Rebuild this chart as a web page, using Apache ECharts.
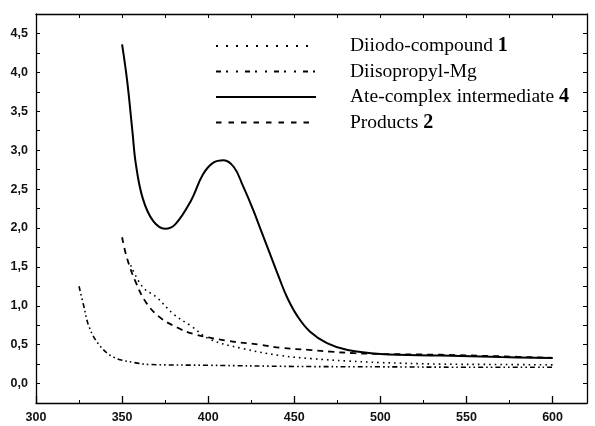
<!DOCTYPE html>
<html>
<head>
<meta charset="utf-8">
<script src="https://cdn.jsdelivr.net/npm/echarts@6/dist/echarts.min.js"></script>
<style>
  html, body { margin: 0; padding: 0; background: #fff; }
  #box { width: 595px; height: 426px; }
</style>
</head>
<body>
<div id="box"></div>
<script>
// 数据
var diiodoX = [355, 362, 370, 380, 390, 401, 420, 442, 460, 481, 500, 535, 570, 600];
var diiodoY = [1.52, 1.24, 1.11, 0.89, 0.74, 0.57, 0.45, 0.36, 0.32, 0.29, 0.27, 0.25, 0.245, 0.24];

var mgX = [325, 327.5, 331, 337, 345, 357, 366, 400, 450, 500, 550, 600];
var mgY = [1.25, 1.02, 0.72, 0.49, 0.34, 0.27, 0.245, 0.235, 0.22, 0.215, 0.21, 0.21];

var ateX = [350, 353, 356, 358, 362, 368, 375, 381, 390, 397, 403, 409, 415, 420, 426, 431, 436, 441, 446, 452, 459, 469, 481, 500, 535, 570, 600];
var ateY = [4.36, 3.88, 3.24, 2.82, 2.38, 2.09, 1.99, 2.05, 2.35, 2.69, 2.84, 2.87, 2.78, 2.55, 2.24, 1.95, 1.66, 1.37, 1.10, 0.86, 0.67, 0.52, 0.43, 0.38, 0.36, 0.34, 0.33];

var prodX = [350, 353, 358, 364, 372, 382, 391, 411, 430, 442, 460, 471, 485, 500, 535, 570, 600];
var prodY = [1.88, 1.60, 1.30, 1.04, 0.85, 0.72, 0.64, 0.55, 0.50, 0.46, 0.43, 0.41, 0.39, 0.38, 0.37, 0.35, 0.33];

var xMajorTicks = [300, 350, 400, 450, 500, 550, 600];
var xMinorTicks = [325, 375, 425, 475, 525, 575];
var xTopTicks = [325, 350, 375, 400, 425, 450, 475, 500, 525, 550, 575, 600];

var names = ['Diiodo-compound 1', 'Diisopropyl-Mg', 'Ate-complex intermediate 4', 'Products 2'];

function pairs(xs, ys) {
  return xs.map(function (x, i) { return [x, ys[i]]; });
}

var myChart = echarts.init(document.getElementById('box'));

var labelFont = { color: '#111', fontWeight: 'bold', fontSize: 12.5, fontFamily: 'Liberation Sans' };
var frameLine = { show: true, onZero: false, lineStyle: { color: '#000', width: 1.3 } };

function yLabel(v) {
  var k = Math.round(v * 4);
  if (k < 0 || k % 2 !== 0) return '';
  return v.toFixed(1).replace('.', ',');
}

var option = {
  animation: false,
  backgroundColor: '#fff',
  grid: { left: 36, right: 8, top: 14, bottom: 23 },
  legend: {
    orient: 'vertical',
    left: 210,
    top: 31,
    itemWidth: 100,
    itemHeight: 14,
    itemGap: 5.5,
    data: [
      { name: names[0], lineStyle: { type: [2, 8], width: 2 } },
      { name: names[1], lineStyle: { type: [5, 5, 2, 8, 2, 7], width: 2 } },
      { name: names[2] },
      { name: names[3], lineStyle: { type: [5.5, 7], width: 2 } }
    ],
    itemStyle: { opacity: 0 },
    formatter: function (name) {
      var m = name.match(/^(.*) (\d)$/);
      if (m) return m[1] + ' {b|' + m[2] + '}';
      return name;
    },
    textStyle: {
      color: '#000',
      fontFamily: 'Liberation Serif',
      fontSize: 19.5,
      lineHeight: 20,
      padding: [0, 0, 0, 29],
      rich: {
        b: { fontFamily: 'Liberation Serif', fontSize: 20, lineHeight: 20, fontWeight: 'bold', color: '#000' }
      }
    }
  },
  xAxis: [
    {
      type: 'value', min: 300, max: 620, position: 'bottom',
      axisLine: frameLine,
      axisTick: { show: true, inside: true, length: 7, customValues: xMajorTicks, lineStyle: { color: '#000', width: 1.3 } },
      axisLabel: Object.assign({ customValues: xMajorTicks, margin: 8 }, labelFont),
      splitLine: { show: false }
    },
    {
      type: 'value', min: 300, max: 620, position: 'bottom',
      axisLine: { show: false, onZero: false },
      axisTick: { show: true, inside: true, length: 3, customValues: xMinorTicks, lineStyle: { color: '#000', width: 1 } },
      axisLabel: { show: false },
      splitLine: { show: false }
    },
    {
      type: 'value', min: 300, max: 620, position: 'top',
      axisLine: frameLine,
      axisTick: { show: true, inside: true, length: 4, customValues: xTopTicks, lineStyle: { color: '#000', width: 1 } },
      axisLabel: { show: false },
      splitLine: { show: false }
    }
  ],
  yAxis: [
    {
      type: 'value', min: -0.25, max: 4.75, interval: 0.25, position: 'left',
      axisLine: frameLine,
      axisTick: { show: true, inside: true, length: 4, lineStyle: { color: '#000', width: 1 } },
      axisLabel: Object.assign({ formatter: yLabel, margin: 8 }, labelFont),
      splitLine: { show: false }
    },
    {
      type: 'value', min: -0.25, max: 4.75, interval: 0.25, position: 'right',
      axisLine: frameLine,
      axisTick: { show: true, inside: true, length: 4, lineStyle: { color: '#000', width: 1 } },
      axisLabel: { show: false },
      splitLine: { show: false }
    }
  ],
  series: [
    {
      name: names[0], type: 'line', symbol: 'none', smooth: 0.4,
      itemStyle: { color: '#000' },
      lineStyle: { color: '#000', width: 1.6, type: [1.6, 4] },
      data: pairs(diiodoX, diiodoY)
    },
    {
      name: names[1], type: 'line', symbol: 'none', smooth: 0.4,
      itemStyle: { color: '#000' },
      lineStyle: { color: '#000', width: 1.6, type: [5, 3, 1.6, 3, 1.6, 3] },
      data: pairs(mgX, mgY)
    },
    {
      name: names[2], type: 'line', symbol: 'none', smooth: 0.4,
      itemStyle: { color: '#000' },
      lineStyle: { color: '#000', width: 2 },
      data: pairs(ateX, ateY)
    },
    {
      name: names[3], type: 'line', symbol: 'none', smooth: 0.4,
      itemStyle: { color: '#000' },
      lineStyle: { color: '#000', width: 1.8, type: [6, 5] },
      data: pairs(prodX, prodY)
    }
  ]
};

myChart.setOption(option);
</script>
</body>
</html>
